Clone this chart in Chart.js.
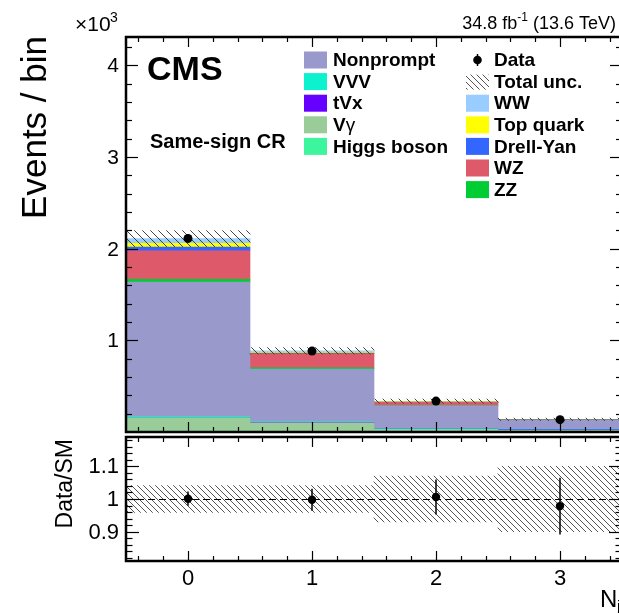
<!DOCTYPE html>
<html>
<head>
<meta charset="utf-8">
<script src="https://cdn.jsdelivr.net/npm/chart.js@4.4.1/dist/chart.umd.min.js"></script>
<style>
html, body { margin:0; padding:0; background:#fff; overflow:hidden; width:619px; height:613px; }
#wrap { position:relative; width:640px; height:613px; }
canvas { position:absolute; left:0; top:0; }
</style>
</head>
<body>
<div id="wrap">
<canvas id="top" width="640" height="613"></canvas>
<canvas id="ratio" width="640" height="613"></canvas>
</div>
<script>
// jet multiplicity bins
let bins = ["0", "1", "2", "3"];

// expected events, stacked from the bottom up
let higgs     = [10, 8, 5, 4];
let vgamma    = [148, 92, 25, 15];
let tvx       = [3, 3, 3, 4];
let vvv       = [10, 9, 7, 7];
let nonprompt = [1465, 575, 245, 98];
let zz        = [30, 12, 4, 1];
let wz        = [312, 155, 36, 5];
let drellyan  = [40, 6, 2, 1];
let topquark  = [40, 13, 5, 2];
let ww        = [52, 12, 3, 1];

// observed data
let data_obs = [2112, 883, 337, 135];
let data_err = [46, 30, 18, 12];

// relative total uncertainty of the prediction
let unc_rel = [0.041, 0.041, 0.070, 0.100];

let y_ticks = [1000, 2000, 3000, 4000];
let y_tick_labels = ["1", "2", "3", "4"];
let ratio_ticks = [0.9, 1.0, 1.1];
let ratio_tick_labels = ["0.9", "1", "1.1"];
let x_ticks = [0, 1, 2, 3];

const FONT = '"Liberation Sans", Arial, Helvetica, sans-serif';

let stack_list = [
  {label: "Higgs boson", values: higgs, color: "#3cf59c"},
  {label: "Vγ", values: vgamma, color: "#99cc99"},
  {label: "tVx", values: tvx, color: "#6600ff"},
  {label: "VVV", values: vvv, color: "#0cf2cf"},
  {label: "Nonprompt", values: nonprompt, color: "#9999cc"},
  {label: "ZZ", values: zz, color: "#00cc33"},
  {label: "WZ", values: wz, color: "#de5a6a"},
  {label: "Drell-Yan", values: drellyan, color: "#3366ff"},
  {label: "Top quark", values: topquark, color: "#ffff00"},
  {label: "WW", values: ww, color: "#99ccff"},
];

let total = bins.map((b, i) => stack_list.reduce((s, p) => s + p.values[i], 0));
let ratio = data_obs.map((d, i) => d / total[i]);
let ratio_err = data_err.map((e, i) => e / total[i]);

function hatch(size, color) {
  let c = document.createElement("canvas");
  c.width = size; c.height = size;
  let g = c.getContext("2d");
  g.strokeStyle = color;
  g.lineWidth = 1;
  g.beginPath();
  g.moveTo(0, 0); g.lineTo(size, size);
  g.moveTo(-1, size - 1); g.lineTo(1, size + 1);
  g.moveTo(size - 1, -1); g.lineTo(size + 1, 1);
  g.stroke();
  return g.createPattern(c, "repeat");
}

function line(ctx, x1, y1, x2, y2) {
  ctx.beginPath(); ctx.moveTo(x1, y1); ctx.lineTo(x2, y2); ctx.stroke();
}

// ROOT style frame with inward ticks on all four sides
function draw_frame(chart, o) {
  let ctx = chart.ctx, a = chart.chartArea, x = chart.scales.x, y = chart.scales.y;
  ctx.save();
  ctx.strokeStyle = "#000";
  ctx.lineWidth = 1.2;
  for (let k = -2; k <= 17; k++) {
    let px = Math.round(x.getPixelForValue(k / 5)) + 0.5;
    let len = k % 5 === 0 ? o.xMajor : o.xMinor;
    line(ctx, px, a.bottom, px, a.bottom - len);
    line(ctx, px, a.top, px, a.top + len);
  }
  for (let k = o.yFrom; k <= o.yTo; k++) {
    let py = Math.round(y.getPixelForValue(k * o.yStep)) + 0.5;
    let len = k % o.yEvery === 0 ? o.yMajor : o.yMinor;
    line(ctx, a.left, py, a.left + len, py);
    line(ctx, a.right, py, a.right - len, py);
  }
  ctx.lineWidth = 2.5;
  ctx.strokeRect(a.left, a.top, a.right - a.left, a.bottom - a.top);
  ctx.restore();
}

function draw_errors(chart, values, errs) {
  let ctx = chart.ctx, x = chart.scales.x, y = chart.scales.y;
  ctx.save();
  ctx.strokeStyle = "#000";
  ctx.lineWidth = 1.5;
  values.forEach((v, i) => {
    let px = x.getPixelForValue(i);
    line(ctx, px, y.getPixelForValue(v - errs[i]), px, y.getPixelForValue(v + errs[i]));
  });
  ctx.restore();
}

let legend_left = ["Nonprompt", "VVV", "tVx", "Vγ", "Higgs boson"];
let legend_right = ["Data", "Total unc.", "WW", "Top quark", "Drell-Yan", "WZ", "ZZ"];

function legend_text(ctx, label, x, y) {
  ctx.font = "bold 19px " + FONT;
  if (label === "Vγ") {
    ctx.fillText("V", x, y);
    let w = ctx.measureText("V").width;
    ctx.font = "19px " + FONT;
    ctx.fillText("γ", x + w, y);
  } else {
    ctx.fillText(label, x, y);
  }
}

let top_texts = {
  id: "top_texts",
  afterDatasetsDraw(chart) {
    draw_errors(chart, data_obs, data_err);
  },
  afterDraw(chart) {
    draw_frame(chart, {xMajor: 10, xMinor: 5, yFrom: 1, yTo: 21, yStep: 200, yEvery: 5, yMajor: 12, yMinor: 6});
    let ctx = chart.ctx, y = chart.scales.y;
    ctx.save();
    ctx.fillStyle = "#000";
    ctx.textBaseline = "middle";
    ctx.textAlign = "right";
    ctx.font = "21px " + FONT;
    y_ticks.forEach((v, i) => ctx.fillText(y_tick_labels[i], 119, y.getPixelForValue(v) + 1));

    ctx.textBaseline = "alphabetic";
    ctx.textAlign = "left";
    ctx.font = "21px " + FONT;
    ctx.fillText("×10", 75, 31);
    ctx.font = "14px " + FONT;
    ctx.fillText("3", 110, 22);

    ctx.font = "bold 34px " + FONT;
    ctx.fillText("CMS", 147, 80);
    ctx.font = "bold 20px " + FONT;
    ctx.fillText("Same-sign CR", 150, 148);

    // luminosity label
    ctx.textAlign = "right";
    ctx.font = "18px " + FONT;
    let tail = " (13.6 TeV)";
    let xr = 616;
    ctx.fillText(tail, xr, 29);
    xr -= ctx.measureText(tail).width;
    ctx.font = "12px " + FONT;
    ctx.fillText("-1", xr, 21);
    xr -= ctx.measureText("-1").width;
    ctx.font = "18px " + FONT;
    ctx.fillText("34.8 fb", xr, 29);

    // y title
    ctx.save();
    ctx.translate(46, 36);
    ctx.rotate(-Math.PI / 2);
    ctx.textAlign = "right";
    ctx.font = "35px " + FONT;
    ctx.fillText("Events / bin", 0, 0);
    ctx.restore();

    // legend
    ctx.textAlign = "left";
    ctx.textBaseline = "middle";
    legend_left.forEach((lab, i) => {
      let cy = 60 + i * 21.6;
      let p = stack_list.find(s => s.label === lab);
      ctx.fillStyle = p.color;
      ctx.fillRect(304, cy - 8.5, 23, 17);
      ctx.fillStyle = "#000";
      legend_text(ctx, lab, 333, cy + 1);
    });
    legend_right.forEach((lab, i) => {
      let cy = 60 + i * 21.6;
      if (lab === "Data") {
        ctx.beginPath(); ctx.arc(477.5, cy, 4.3, 0, 2 * Math.PI); ctx.fill();
        ctx.lineWidth = 1.5; line(ctx, 477.5, cy - 6, 477.5, cy + 6);
      } else if (lab === "Total unc.") {
        ctx.fillStyle = hatch(6, "#555");
        ctx.fillRect(466, cy - 7, 23, 15);
      } else {
        let p = stack_list.find(s => s.label === lab);
        ctx.fillStyle = p.color;
        ctx.fillRect(466, cy - 8.5, 23, 17);
      }
      ctx.fillStyle = "#000";
      legend_text(ctx, lab, 494, cy + 1);
    });
    ctx.restore();
  }
};

let top_sets = [
  {type: "line", label: "Data", data: data_obs, showLine: false, pointRadius: 4.5,
   pointBackgroundColor: "#000", pointBorderWidth: 0, borderColor: "#000"},
  {type: "bar", label: "Total unc.", stack: "unc", grouped: false,
   data: total.map((t, i) => [t * (1 - unc_rel[i]), t * (1 + unc_rel[i])]),
   backgroundColor: hatch(8, "#444"), borderWidth: 0},
];
stack_list.forEach(p => {
  top_sets.push({type: "bar", label: p.label, data: p.values, stack: "mc",
    backgroundColor: p.color, borderWidth: 0});
});

new Chart("top", {
  type: "bar",
  data: {labels: bins, datasets: top_sets},
  options: {
    responsive: false, animation: false, devicePixelRatio: 1,
    layout: {padding: {left: 126, right: 18, top: 37, bottom: 613 - 432}},
    plugins: {legend: {display: false}, tooltip: {enabled: false}},
    datasets: {bar: {barPercentage: 1, categoryPercentage: 1}},
    scales: {
      x: {display: false, stacked: true, offset: true},
      y: {display: false, stacked: true, min: 0, max: 4310}
    }
  },
  plugins: [top_texts]
});

let ratio_texts = {
  id: "ratio_texts",
  afterDatasetsDraw(chart) {
    let ctx = chart.ctx, a = chart.chartArea, y = chart.scales.y;
    ctx.save();
    ctx.strokeStyle = "#000";
    ctx.lineWidth = 1;
    ctx.setLineDash([7, 4]);
    let py = Math.round(y.getPixelForValue(1)) + 0.5;
    line(ctx, a.left, py, a.right, py);
    ctx.restore();
    draw_errors(chart, ratio, ratio_err);
  },
  afterDraw(chart) {
    draw_frame(chart, {xMajor: 10, xMinor: 5, yFrom: 41, yTo: 59, yStep: 0.02, yEvery: 5, yMajor: 13, yMinor: 6.5});
    let ctx = chart.ctx, x = chart.scales.x, y = chart.scales.y;
    ctx.save();
    ctx.fillStyle = "#000";
    ctx.textAlign = "right";
    ctx.textBaseline = "middle";
    ctx.font = "22px " + FONT;
    ratio_ticks.forEach((v, i) => ctx.fillText(ratio_tick_labels[i], 119, y.getPixelForValue(v) + 1));
    ctx.textAlign = "center";
    ctx.textBaseline = "alphabetic";
    x_ticks.forEach(v => ctx.fillText(String(v), x.getPixelForValue(v), 585));

    ctx.textAlign = "left";
    ctx.font = "24px " + FONT;
    ctx.fillText("N", 600, 607);
    ctx.font = "15px " + FONT;
    ctx.fillText("j", 617, 611);

    ctx.save();
    ctx.translate(72, 439);
    ctx.rotate(-Math.PI / 2);
    ctx.textAlign = "right";
    ctx.font = "23px " + FONT;
    ctx.fillText("Data/SM", 0, 0);
    ctx.restore();
    ctx.restore();
  }
};

new Chart("ratio", {
  type: "bar",
  data: {
    labels: bins,
    datasets: [
      {type: "line", label: "Data/SM", data: ratio, showLine: false, pointRadius: 4.2,
       pointBackgroundColor: "#000", pointBorderWidth: 0, borderColor: "#000"},
      {type: "bar", label: "Total unc.", data: unc_rel.map(u => [1 - u, 1 + u]),
       backgroundColor: hatch(6, "#555"), borderWidth: 0}
    ]
  },
  options: {
    responsive: false, animation: false, devicePixelRatio: 1,
    layout: {padding: {left: 126, right: 18, top: 437, bottom: 613 - 561}},
    plugins: {legend: {display: false}, tooltip: {enabled: false}},
    datasets: {bar: {barPercentage: 1, categoryPercentage: 1}},
    scales: {
      x: {display: false, offset: true},
      y: {display: false, min: 0.81, max: 1.19}
    }
  },
  plugins: [ratio_texts]
});
</script>
</body>
</html>
